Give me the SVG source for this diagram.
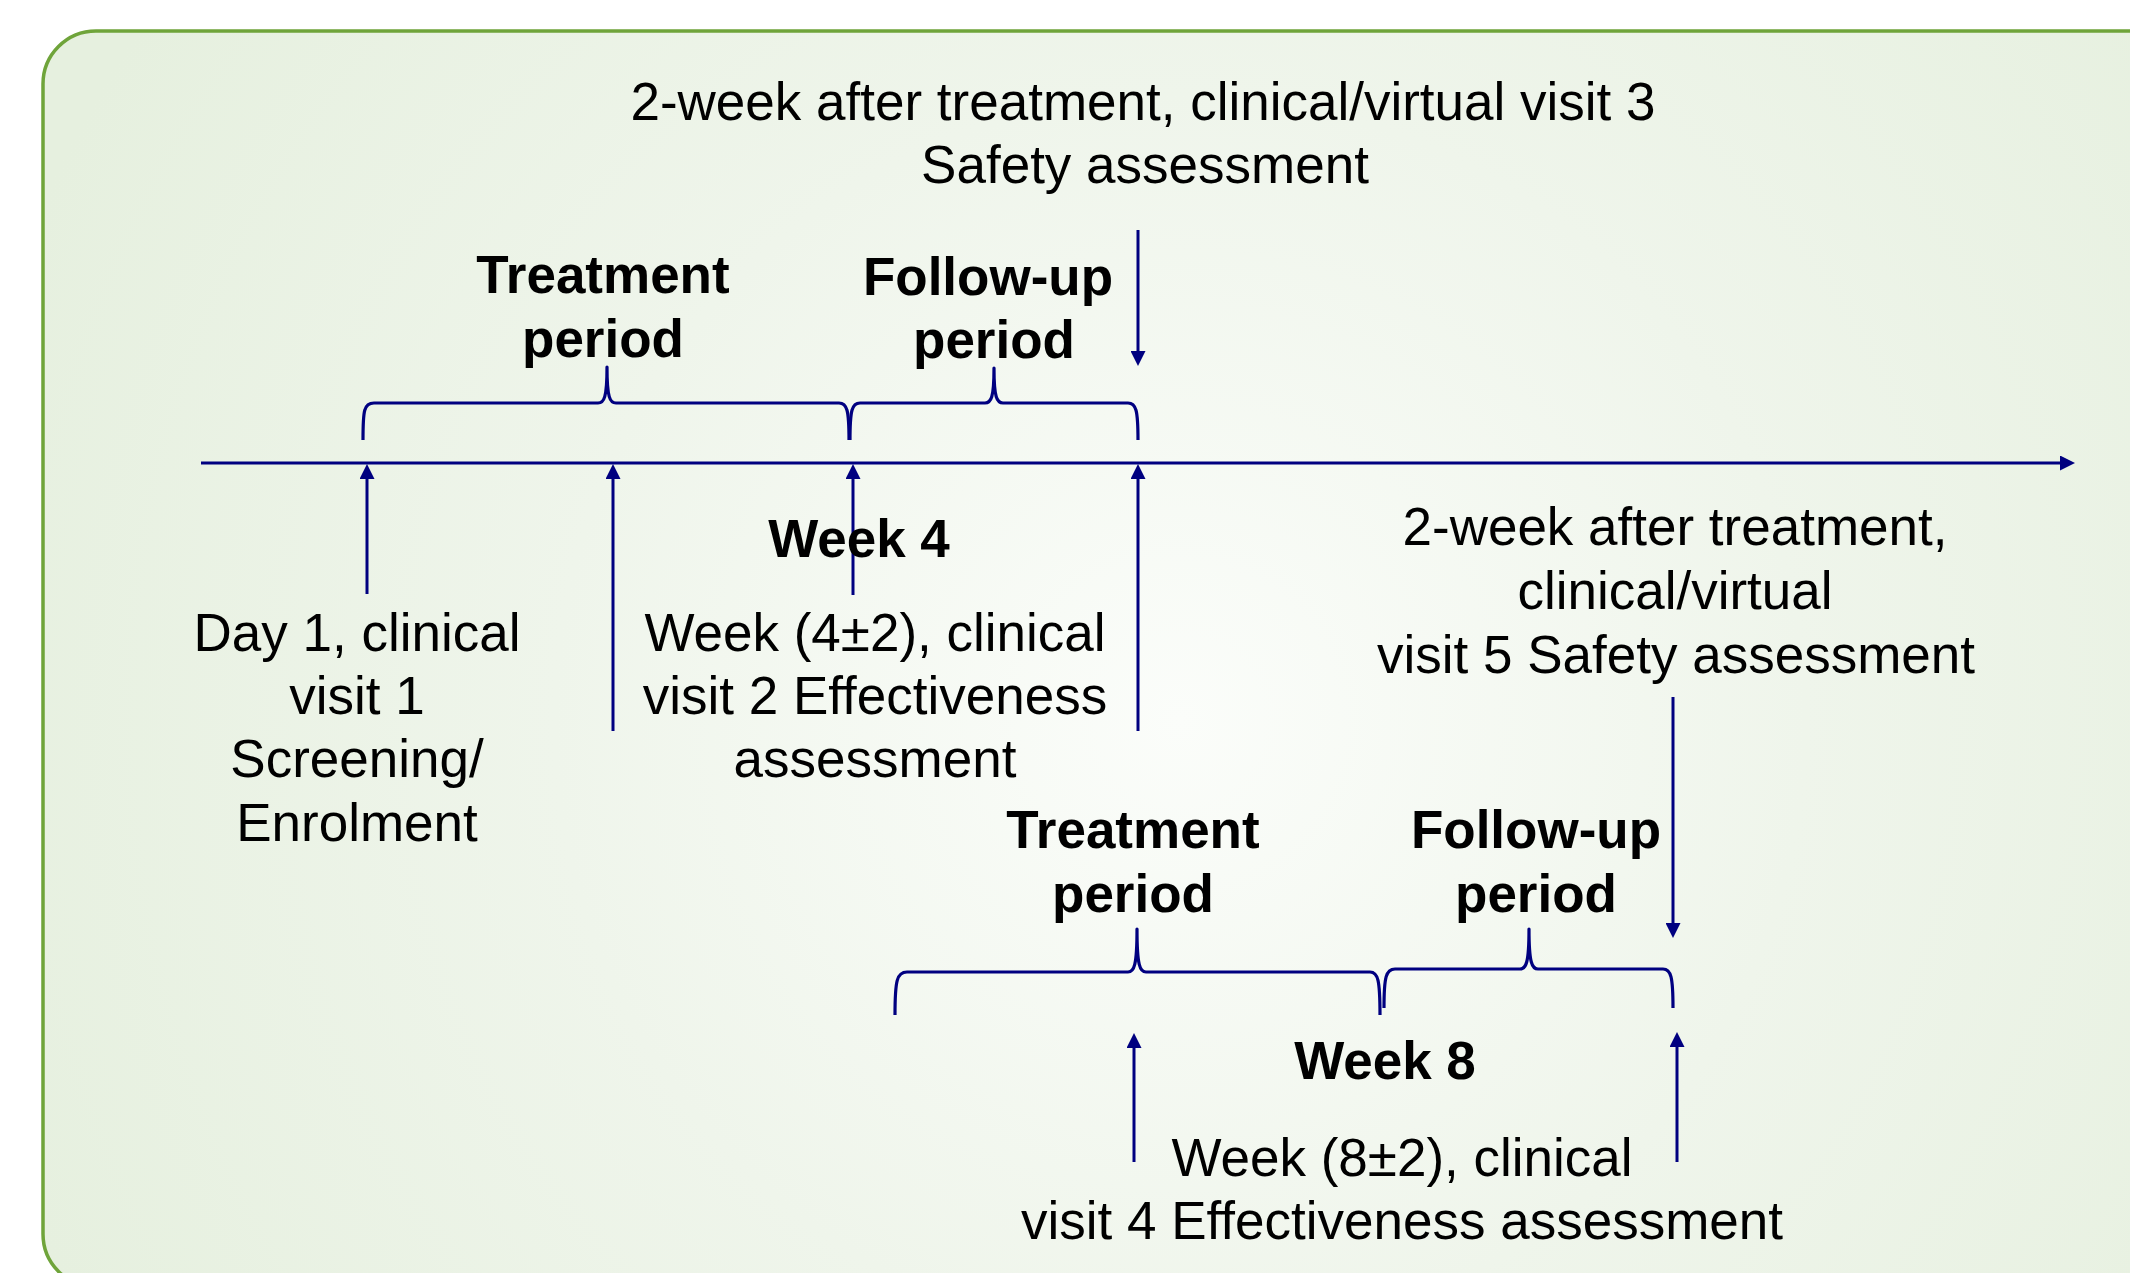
<svg xmlns="http://www.w3.org/2000/svg" width="2130" height="1273" viewBox="0 0 2130 1273">
  <defs>
    <radialGradient id="bg" gradientUnits="userSpaceOnUse" cx="1180" cy="720" r="1250">
      <stop offset="0" stop-color="#fbfdfa"/>
      <stop offset="0.5" stop-color="#eff5eb"/>
      <stop offset="1" stop-color="#e6f0df"/>
    </radialGradient>
    <marker id="ah" viewBox="0 0 15 15" refX="6" refY="7.5" markerWidth="15" markerHeight="15" markerUnits="userSpaceOnUse" orient="auto">
      <path d="M0,0 L15,7.5 L0,15 z" fill="#000080"/>
    </marker>
    <style>
      .t { font-family: "Liberation Sans", Arial, sans-serif; font-size: 53px; fill: #000; text-anchor: middle; }
      .b { font-weight: bold; }
      .ar { stroke: #000080; stroke-width: 3; fill: none; marker-end: url(#ah); }
      .br { stroke: #000080; stroke-width: 3.2; fill: none; stroke-linejoin: round; }
    </style>
  </defs>

  <rect id="frame" x="43" y="31" width="2200" height="1256" rx="53" ry="53" fill="url(#bg)" stroke="#6fa43a" stroke-width="3.5"/>

  <g id="connectors">
    <line class="ar" x1="201" y1="463" x2="2066" y2="463" stroke-width="3.5"/>
    <line class="ar" x1="1138" y1="230" x2="1138" y2="357"/>
    <line class="ar" x1="367" y1="594" x2="367" y2="473"/>
    <line class="ar" x1="613" y1="731" x2="613" y2="473"/>
    <line class="ar" x1="853" y1="595" x2="853" y2="473"/>
    <line class="ar" x1="1138" y1="731" x2="1138" y2="473"/>
    <line class="ar" x1="1673" y1="697" x2="1673" y2="929"/>
    <line class="ar" x1="1134" y1="1162" x2="1134" y2="1042"/>
    <line class="ar" x1="1677" y1="1162" x2="1677" y2="1041"/>
  </g>

  <g id="brace-treatment-1">
    <path class="br" d="M363,440 C363,410 364,403 374,403 L598,403 C604,403 607,398 607,367 C607,398 610,403 616,403 L839,403 C847,403 849,410 849,440"/>
  </g>
  <g id="brace-followup-1">
    <path class="br" d="M850,440 C850,410 852,403 860,403 L985,403 C991,403 994,398 994,368 C994,398 997,403 1003,403 L1128,403 C1136,403 1138,410 1138,440"/>
  </g>
  <g id="brace-treatment-2">
    <path class="br" d="M895,1015 C895,980 897,972 907,972 L1128,972 C1134,972 1137,966 1137,929 C1137,966 1140,972 1146,972 L1370,972 C1378,972 1380,980 1380,1015"/>
  </g>
  <g id="brace-followup-2">
    <path class="br" d="M1384,1008 C1384,977 1386,969 1395,969 L1520,969 C1526,969 1529,963 1529,929 C1529,963 1532,969 1538,969 L1663,969 C1671,969 1673,977 1673,1008"/>
  </g>

  <g id="label-visit3">
    <text class="t" x="1143" y="120">2-week after treatment, clinical/virtual visit 3</text>
    <text class="t" x="1145" y="183">Safety assessment</text>
  </g>
  <g id="label-treatment-1">
    <text class="t b" x="603" y="293">Treatment</text>
    <text class="t b" x="603" y="357">period</text>
  </g>
  <g id="label-followup-1">
    <text class="t b" x="988" y="295">Follow-up</text>
    <text class="t b" x="994" y="358">period</text>
  </g>
  <g id="label-week4">
    <text class="t b" x="859" y="557">Week 4</text>
  </g>
  <g id="label-visit1">
    <text class="t" x="357" y="651">Day 1, clinical</text>
    <text class="t" x="357" y="714">visit 1</text>
    <text class="t" x="357" y="777">Screening/</text>
    <text class="t" x="357" y="841">Enrolment</text>
  </g>
  <g id="label-visit2">
    <text class="t" x="875" y="651">Week (4±2), clinical</text>
    <text class="t" x="875" y="714">visit 2 Effectiveness</text>
    <text class="t" x="875" y="777">assessment</text>
  </g>
  <g id="label-visit5">
    <text class="t" x="1675" y="545">2-week after treatment,</text>
    <text class="t" x="1675" y="609">clinical/virtual</text>
    <text class="t" x="1676" y="673">visit 5 Safety assessment</text>
  </g>
  <g id="label-treatment-2">
    <text class="t b" x="1133" y="848">Treatment</text>
    <text class="t b" x="1133" y="912">period</text>
  </g>
  <g id="label-followup-2">
    <text class="t b" x="1536" y="848">Follow-up</text>
    <text class="t b" x="1536" y="912">period</text>
  </g>
  <g id="label-week8">
    <text class="t b" x="1385" y="1079">Week 8</text>
  </g>
  <g id="label-visit4">
    <text class="t" x="1402" y="1176">Week (8±2), clinical</text>
    <text class="t" x="1402" y="1239">visit 4 Effectiveness assessment</text>
  </g>
</svg>
